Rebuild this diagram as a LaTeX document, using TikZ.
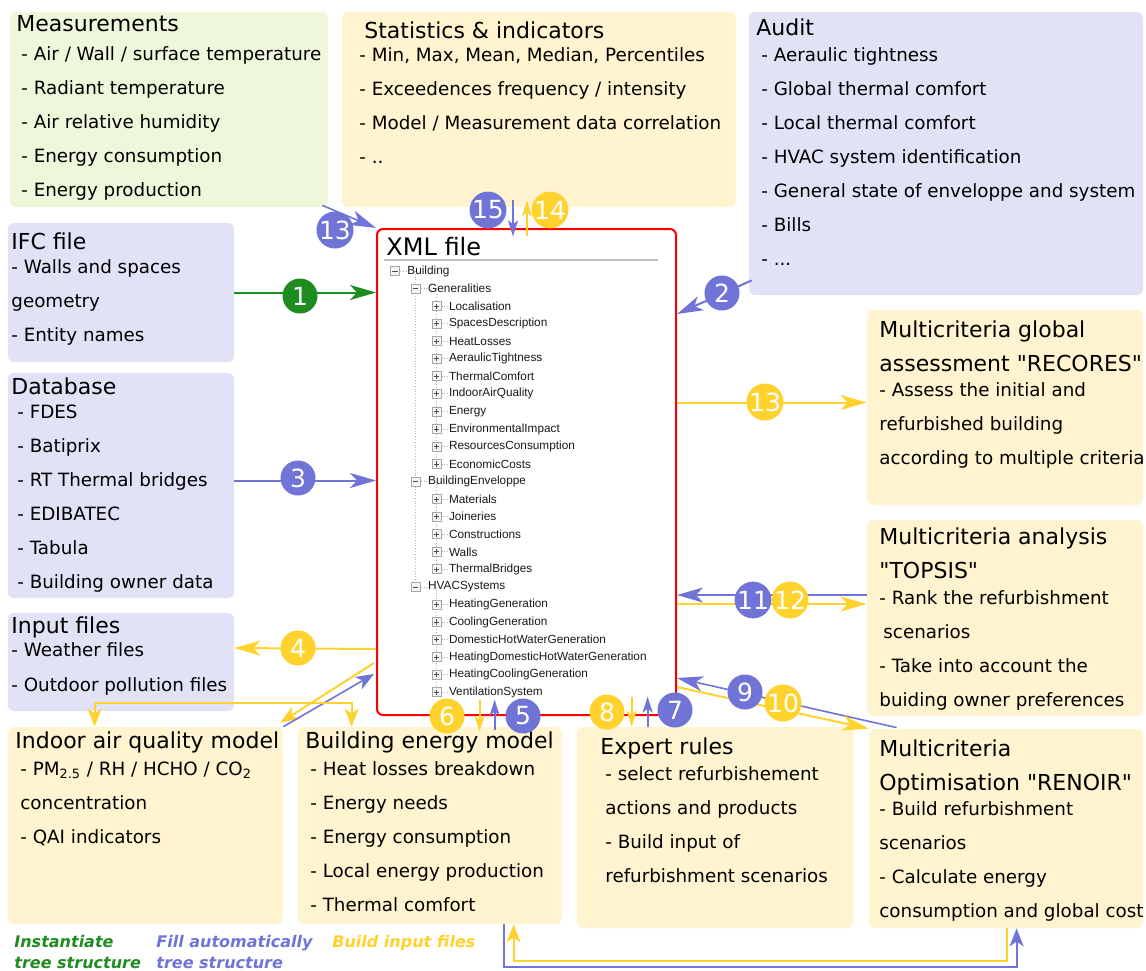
\documentclass[tikz,border=0pt]{standalone}
\usepackage{fontspec}
\setmainfont{DejaVu Sans}
\newfontfamily\treefont{Liberation Sans}
\usetikzlibrary{positioning, arrows.meta, fit, calc}
\pgfdeclarelayer{background}
\pgfsetlayers{background,main}

\definecolor{PanelLav}{RGB}{225,226,246}
\definecolor{PanelYel}{RGB}{255,244,207}
\definecolor{PanelGrn}{RGB}{239,247,219}
\definecolor{FlowGrn}{RGB}{30,140,30}
\definecolor{FlowBlu}{RGB}{112,116,214}
\definecolor{FlowYel}{RGB}{255,210,45}
\definecolor{XmlRed}{RGB}{255,0,0}

\newcommand{\ttl}{\fontsize{11}{17}\selectfont}
\newcommand{\itm}{\fontsize{9.15}{17}\selectfont}
\newcommand{\dq}{\textquotedbl}

\tikzset{
  panel/.style={rounded corners=3pt, inner sep=0pt, draw=none},
  txt/.style={anchor=north west, inner sep=0pt, align=left, font=\itm},
  flow/.style={line width=1pt, -{Stealth[length=13pt,width=7.5pt,inset=3.5pt]}},
  flowS/.style={line width=1pt, -{Stealth[length=9pt,width=7pt,inset=2.5pt]}},
  tick/.style={line width=1pt, -{Stealth[length=8pt,width=5pt,inset=2pt]}},
  num/.style={circle, inner sep=0pt, minimum size=17.5pt, text=white, font=\fontsize{12.5}{12.5}\selectfont},
  expbox/.style={draw=gray!70, fill=gray!8, minimum size=4.5pt, inner sep=0pt},
  treeline/.style={gray!60, densely dotted, line width=0.4pt},
  treetxt/.style={anchor=west, inner sep=0pt, font=\treefont\fontsize{5.9}{7}\selectfont, text=black!90},
  legend/.style={anchor=north west, inner sep=0pt, align=left, font=\bfseries\itshape\fontsize{8}{10.5}\selectfont}
}

\begin{document}
\begin{tikzpicture}[x=0.5pt, y=-0.5pt]
\begin{pgfonlayer}{background}
  \fill[white] (0,0) rectangle (1146,970);
\end{pgfonlayer}
\useasboundingbox (0,0) rectangle (1146,970);

% Panels
\node[panel, fill=PanelGrn, fit={(10,12) (328,207)}] (meas) {};
\node[panel, fill=PanelYel, fit={(342,12) (736,207)}] (stats) {};
\node[panel, fill=PanelLav, fit={(749,12) (1143,295)}] (audit) {};
\node[panel, fill=PanelLav, fit={(8,223) (234,362)}] (ifc) {};
\node[panel, fill=PanelLav, fit={(8,373) (234,598)}] (db) {};
\node[panel, fill=PanelLav, fit={(8,613) (234,711)}] (inp) {};
\node[panel, fill=PanelYel, fit={(8,727) (283,924)}] (iaq) {};
\node[panel, fill=PanelYel, fit={(298,727) (562,924)}] (bem) {};
\node[panel, fill=PanelYel, fit={(577,727) (853,928)}] (expert) {};
\node[panel, fill=PanelYel, fit={(869,729) (1143,928)}] (renoir) {};
\node[panel, fill=PanelYel, fit={(867,310) (1143,505)}] (recores) {};
\node[panel, fill=PanelYel, fit={(867,520) (1143,716)}] (topsis) {};

% Panel texts
\node[txt] (meastxt) at (16,15.5) {{\ttl Measurements}\\[-2.65pt]
  \hspace*{2.5pt}- Air / Wall / surface temperature\\
  \hspace*{2.5pt}- Radiant temperature\\
  \hspace*{2.5pt}- Air relative humidity\\
  \hspace*{2.5pt}- Energy consumption\\
  \hspace*{2.5pt}- Energy production};
\node[txt] (statstxt) at (359,21.5) {\hspace*{2.5pt}{\ttl Statistics \& indicators}\\[-5.65pt]
  - Min, Max, Mean, Median, Percentiles\\
  - Exceedences frequency / intensity\\
  - Model / Measurement data correlation\\
  - ..};
\node[txt] (audittxt) at (756,18.5) {{\ttl Audit}\\[-4.15pt]
  \hspace*{2.5pt}- Aeraulic tightness\\
  \hspace*{2.5pt}- Global thermal comfort\\
  \hspace*{2.5pt}- Local thermal comfort\\
  \hspace*{2.5pt}- HVAC system identification\\
  \hspace*{2.5pt}- General state of enveloppe and system\\
  \hspace*{2.5pt}- Bills\\
  \hspace*{2.5pt}- ...};
\node[txt] (ifctxt) at (11,232.5) {{\ttl IFC file}\\[-5.15pt]
  - Walls and spaces\\
  geometry\\
  - Entity names};
\node[txt] (dbtxt) at (11,377.5) {{\ttl Database}\\[-5.15pt]
  \hspace*{3pt}- FDES\\
  \hspace*{3pt}- Batiprix\\
  \hspace*{3pt}- RT Thermal bridges\\
  \hspace*{3pt}- EDIBATEC\\
  \hspace*{3pt}- Tabula\\
  \hspace*{3pt}- Building owner data};
\node[txt] (inptxt) at (11,616.5) {{\ttl Input files}\\[-5.65pt]
  - Weather files\\[0.5pt]
  - Outdoor pollution files};
\node[txt] (iaqtxt) at (15,731.5) {{\ttl Indoor air quality model}\\[-3.65pt]
  \hspace*{2.5pt}- PM\textsubscript{2.5} / RH / HCHO / CO\textsubscript{2}\\
  \hspace*{2.5pt}concentration\\
  \hspace*{2.5pt}- QAI indicators};
\node[txt] (bemtxt) at (305,731.5) {{\ttl Building energy model}\\[-3.65pt]
  \hspace*{2.5pt}- Heat losses breakdown\\
  \hspace*{2.5pt}- Energy needs\\
  \hspace*{2.5pt}- Energy consumption\\
  \hspace*{2.5pt}- Local energy production\\
  \hspace*{2.5pt}- Thermal comfort};
\node[txt] (experttxt) at (600,737.5) {{\ttl Expert rules}\\[-4.15pt]
  \hspace*{2.5pt}- select refurbishement\\
  \hspace*{2.5pt}actions and products\\
  \hspace*{2.5pt}- Build input of\\
  \hspace*{2.5pt}refurbishment scenarios};
\node[txt] (renoirtxt) at (879,739.5) {{\ttl Multicriteria}\\{\ttl Optimisation \dq RENOIR\dq}\\[-4.65pt]
  - Build refurbishment\\
  scenarios\\
  - Calculate energy\\
  consumption and global cost};
\node[txt] (recorestxt) at (879,320.5) {{\ttl Multicriteria global}\\{\ttl assessment \dq RECORES\dq}\\[-4.65pt]
  - Assess the initial and\\
  refurbished building\\
  according to multiple criteria};
\node[txt] (topsistxt) at (879,527.5) {{\ttl Multicriteria analysis}\\{\ttl \dq TOPSIS\dq}\\[-4.15pt]
  - Rank the refurbishment\\
  \hspace*{2pt}scenarios\\
  - Take into account the\\
  buiding owner preferences};

% XML file
\node[panel, draw=XmlRed, line width=1pt, fit={(377,229) (676,715)}] (xml) {};
\node[anchor=north west, inner sep=0pt, font=\fontsize{12}{14}\selectfont] (xmltitle) at (386,236.5) {XML file};
\draw[gray!50, line width=0.6pt] ($(xml.north west)+(8,32)$) -- ($(xml.north east)+(-19,32)$);

% Tree
\foreach \lvl/\lbl [count=\i from 0] in {0/Building, 1/Generalities, 2/Localisation,
    2/SpacesDescription, 2/HeatLosses, 2/AeraulicTightness, 2/ThermalComfort,
    2/IndoorAirQuality, 2/Energy, 2/EnvironmentalImpact, 2/ResourcesConsumption,
    2/EconomicCosts, 1/BuildingEnveloppe, 2/Materials, 2/Joineries, 2/Constructions,
    2/Walls, 2/ThermalBridges, 1/HVACSystems, 2/HeatingGeneration, 2/CoolingGeneration,
    2/DomesticHotWaterGeneration, 2/HeatingDomesticHotWaterGeneration,
    2/HeatingCoolingGeneration, 2/VentilationSystem} {
  \pgfmathsetmacro{\ty}{271+17.55*\i}
  \pgfmathsetmacro{\tx}{395+20.8*\lvl}
  \node[expbox] (e\i) at (\tx,\ty) {};
  \draw[treeline] (e\i.east) -- ++(6,0);
  \node[treetxt] (t\i) at (\tx+12,\ty) {\lbl};
  \draw[black!70, line width=0.4pt] ([xshift=-1.3pt]e\i.center) -- ([xshift=1.3pt]e\i.center);
  \ifnum\lvl>1
    \draw[black!70, line width=0.4pt] ([yshift=-1.3pt]e\i.center) -- ([yshift=1.3pt]e\i.center);
  \fi
}
\begin{pgfonlayer}{background}
  \draw[treeline] (e1 |- e0) -- (e18);
  \draw[treeline] (e2 |- e1) -- (e11);
  \draw[treeline] (e2 |- e12) -- (e17);
  \draw[treeline] (e2 |- e18) -- (e24);
\end{pgfonlayer}

% Connectors
\draw[flow, FlowGrn] (ifc.east) -- (xml.west |- ifc.east);
\draw[flow, FlowBlu] ($(audit.south west)+(3,-15)$) -- ($(xml.north east)+(0,86)$);
\path ($(db.east)+(0,-5)$) coordinate (d3);
\draw[flow, FlowBlu] (d3) -- (d3 -| xml.west);
\draw[flow, FlowYel] ($(xml.south west)+(0,-67)$) -- ($(inp.east)+(0,-14)$);
\draw[tick, FlowBlu] ($(bem.north west)+(197,3)$) -- ($(bem.north west)+(197,-27)$);
\draw[tick, FlowYel] ($(bem.north west)+(182,-27)$) -- ($(bem.north west)+(182,5)$);
\draw[tick, FlowBlu] ($(expert.north west)+(71,0)$) -- ($(expert.north west)+(71,-30)$);
\draw[tick, FlowYel] ($(expert.north west)+(55,-30)$) -- ($(expert.north west)+(55,0)$);
\draw[flow, FlowBlu, line width=0.8pt] ($(renoir.north west)+(28,-1)$) -- ($(xml.south east)+(0,-38)$);
\draw[flow, FlowYel] ($(xml.south east)+(0,-29)$) -- (renoir.north west);
\path ($(topsis.west)+(0,-23)$) coordinate (t11);
\path ($(topsis.west)+(0,-14)$) coordinate (t12);
\draw[flow, FlowBlu] (t11) -- (t11 -| xml.east);
\draw[flow, FlowYel] (t12 -| xml.east) -- (t12);
\path ($(recores.west)+(0,-5)$) coordinate (r13);
\draw[flow, FlowYel] (r13 -| xml.east) -- (r13);
\draw[flow, FlowBlu, line width=0.8pt] ($(meas.south east)+(-6,-2)$) -- (xml.north west);
\draw[tick, FlowYel] ($(stats.south)+(-12,29)$) -- ($(stats.south)+(-12,-7)$);
\draw[tick, FlowBlu] ($(stats.south)+(-26,-7)$) -- ($(stats.south)+(-26,29)$);
\draw[flowS, FlowYel] ($(xml.south west)+(-2,-53)$) -- ($(iaq.north east)+(-3,-4)$);
\draw[flowS, FlowBlu, line width=0.8pt] (iaq.north east) -- ($(xml.south west)+(-2,-42)$);
\path ($(inp.south west)+(87,-8)$) coordinate (split);
\draw[flowS, FlowYel] (split) -- (split |- iaq.north);
\draw[flowS, FlowYel] (split) -| ($(bem.north west)+(54,0)$);
\draw[flowS, FlowBlu] ($(bem.south west)+(206,0)$) -- ++(0,43) -| ($(renoir.south west)+(148,0)$);
\draw[flowS, FlowYel] ($(renoir.south west)+(138,0)$) -- ++(0,33) -| ($(bem.south west)+(216,0)$);

% Numbers
\node[num, fill=FlowGrn] (n1) at (300,296) {1};
\node[num, fill=FlowBlu] (n2) at (722,293) {2};
\node[num, fill=FlowBlu] (n3) at (298,478) {3};
\node[num, fill=FlowYel] (n4) at (298,648) {4};
\node[num, fill=FlowBlu] (n5) at (523,716) {5};
\node[num, fill=FlowYel] (n6) at (447,716) {6};
\node[num, fill=FlowBlu] (n7) at (675,710) {7};
\node[num, fill=FlowYel] (n8) at (607,712) {8};
\node[num, fill=FlowBlu] (n9) at (745,692) {9};
\node[num, fill=FlowYel] (n10) at (783,703) {10};
\node[num, fill=FlowBlu] (n11) at (753,600) {11};
\node[num, fill=FlowYel] (n12) at (790,600) {12};
\node[num, fill=FlowYel] (n13a) at (765,402) {13};
\node[num, fill=FlowBlu] (n13b) at (335,230) {13};
\node[num, fill=FlowYel] (n14) at (550,210) {14};
\node[num, fill=FlowBlu] (n15) at (488,210) {15};

% Legend
\node[legend, text=FlowGrn] (lgGrn) at (14,935) {Instantiate\\tree structure};
\node[legend, text=FlowBlu] (lgBlu) at (156,935) {Fill automatically\\tree structure};
\node[legend, text=FlowYel] (lgYel) at (332,935) {Build input files};
\end{tikzpicture}
\end{document}
